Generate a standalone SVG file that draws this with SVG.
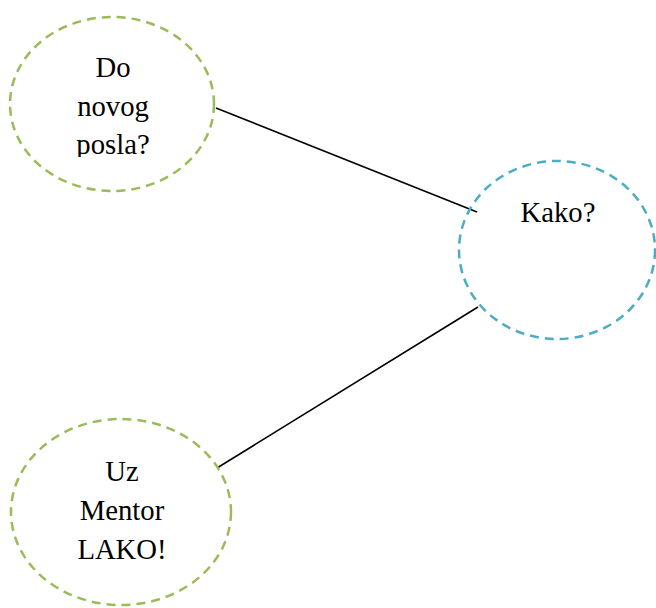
<svg xmlns="http://www.w3.org/2000/svg" width="656" height="608" viewBox="0 0 656 608">
<style>
.n{fill:none;stroke-width:2.5;stroke-dasharray:9 6}
.g{stroke:#9BBB59}
.b{stroke:#4BACC6}
.t{font-family:"Liberation Serif","Times New Roman",serif;font-size:28.7px;fill:#000;text-anchor:middle}
.c{stroke:#000;stroke-width:1.6;fill:none}
</style>
<defs><clipPath id="cp1"><rect x="0" y="0" width="656" height="157"/></clipPath></defs>
<rect width="656" height="608" fill="#fff"/>
<g id="connectors">
<line class="c" x1="216" y1="108" x2="477" y2="212"/>
<line class="c" x1="217" y1="468" x2="478" y2="307"/>
</g>
<g id="node1">
<ellipse class="n g" cx="112" cy="104" rx="102" ry="87"/>
<text class="t" clip-path="url(#cp1)"><tspan x="113" y="77">Do</tspan><tspan x="113" y="115.5">novog</tspan><tspan x="113" y="154">posla?</tspan></text>
</g>
<g id="node2">
<ellipse class="n b" cx="557" cy="250" rx="98" ry="89"/>
<text class="t" x="558" y="222">Kako?</text>
</g>
<g id="node3">
<ellipse class="n g" cx="121" cy="512" rx="110" ry="93"/>
<text class="t"><tspan x="122" y="481">Uz</tspan><tspan x="122" y="520">Mentor</tspan><tspan x="122" y="559">LAKO!</tspan></text>
</g>
</svg>
